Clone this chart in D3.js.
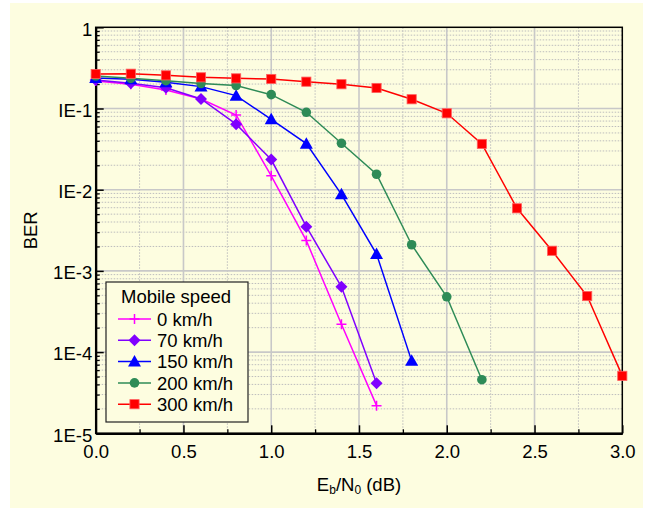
<!DOCTYPE html>
<html>
<head>
<meta charset="utf-8">
<script src="https://cdn.jsdelivr.net/npm/d3@7"></script>
<style>
  html, body { margin: 0; padding: 0; background: #ffffff; }
  svg { display: block; }
  text { font-family: "Liberation Sans", Arial, sans-serif; fill: #000; }
</style>
</head>
<body>
<svg id="chart" width="649" height="510"></svg>
<script>
// ---- data ----
const ebn0 = [0, 0.2, 0.4, 0.6, 0.8, 1.0, 1.2, 1.4, 1.6, 1.8, 2.0, 2.2, 2.4, 2.6, 2.8, 3.0];
const seriesNames = ["0 km/h", "70 km/h", "150 km/h", "200 km/h", "300 km/h"];
const ber0   = [0.218, 0.199, 0.169, 0.131, 0.0832, 0.0148, 0.00236, 0.00022, 2.19e-5];
const ber70  = [0.224, 0.204, 0.180, 0.131, 0.0641, 0.0235, 0.0035, 0.000638, 4.13e-5];
const ber150 = [0.238, 0.229, 0.210, 0.186, 0.144, 0.0736, 0.0369, 0.00878, 0.00161, 7.8e-5];
const ber200 = [0.251, 0.235, 0.220, 0.203, 0.192, 0.148, 0.0898, 0.0373, 0.0155, 0.0021, 0.00048, 4.57e-5];
const ber300 = [0.266, 0.268, 0.256, 0.242, 0.235, 0.231, 0.214, 0.199, 0.179, 0.130, 0.0873, 0.0366, 0.0059, 0.00177, 0.00049, 5.1e-5];
const yTickValues = [1, 0.1, 0.01, 0.001, 0.0001, 0.00001];
const yTickLabels = ["1", "IE-1", "IE-2", "1E-3", "1E-4", "1E-5"];
const xTickValues = [0, 0.5, 1.0, 1.5, 2.0, 2.5, 3.0];
const legendTitle = "Mobile speed";
const yLabel = "BER";

// ---- style ----
const colors = ["#ff00ff", "#8000ff", "#0000ff", "#2e8b57", "#ff0000"];
const symbols = ["plus", "diamond", "triangle", "circle", "square"];
const allSeries = [ber0, ber70, ber150, ber200, ber300];

const svg = d3.select("#chart");
const L = 95.7, R = 622.3, T = 27.3, B = 433.3;

svg.append("rect").attr("x", 10).attr("y", 3).attr("width", 633).attr("height", 505)
  .attr("fill", "#fdfde0");

const x = d3.scaleLinear().domain([0, 3]).range([L, R]);
const y = d3.scaleLog().domain([1e-5, 1]).range([B, T]);

// grid
const grid = svg.append("g");
const minorY = [];
for (let e = -5; e < 0; e++) for (let m = 2; m <= 9; m++) minorY.push(m * Math.pow(10, e));
const minorX = d3.range(0.25, 3, 0.5);
const majorX = [0.5, 1.0, 1.5, 2.0, 2.5];
const majorY = [0.1, 0.01, 0.001, 0.0001];

grid.selectAll(".mny").data(minorY).join("line")
  .attr("x1", L).attr("x2", R).attr("y1", d => y(d)).attr("y2", d => y(d))
  .attr("stroke", "#bdbdbd").attr("stroke-width", 1).attr("stroke-dasharray", "1.5,1.5");
grid.selectAll(".mnx").data(minorX).join("line")
  .attr("x1", d => x(d)).attr("x2", d => x(d)).attr("y1", T).attr("y2", B)
  .attr("stroke", "#bdbdbd").attr("stroke-width", 1).attr("stroke-dasharray", "1.5,1.5");
grid.selectAll(".mjy").data(majorY).join("line")
  .attr("x1", L).attr("x2", R).attr("y1", d => y(d)).attr("y2", d => y(d))
  .attr("stroke", "#c8c8c8").attr("stroke-width", 1.6);
grid.selectAll(".mjx").data(majorX).join("line")
  .attr("x1", d => x(d)).attr("x2", d => x(d)).attr("y1", T).attr("y2", B)
  .attr("stroke", "#c8c8c8").attr("stroke-width", 1.6);

// frame
svg.append("rect").attr("x", L).attr("y", T).attr("width", R - L).attr("height", B - T)
  .attr("fill", "none").attr("stroke", "#000").attr("stroke-width", 1.5);

// axes
const yAxis = d3.axisLeft(y).tickValues(yTickValues)
  .tickFormat((d, i) => yTickLabels[i]).tickSizeInner(-8).tickSizeOuter(0).tickPadding(3.5);
const gy = svg.append("g").attr("transform", `translate(${L},0)`).call(yAxis);
gy.select(".domain").attr("stroke-width", 2.2);
gy.selectAll(".tick line").attr("stroke-width", 1.5);
gy.selectAll("text").attr("font-size", "18.5px").attr("dy", "0.42em")
  .style("font-family", '"Liberation Sans", Arial, sans-serif');

const yMinor = d3.axisLeft(y).tickValues(minorY).tickFormat("").tickSizeInner(-4).tickSizeOuter(0);
const gym = svg.append("g").attr("transform", `translate(${L},0)`).call(yMinor);
gym.select(".domain").remove();
gym.selectAll(".tick line").attr("stroke-width", 1.3);

const xAxis = d3.axisBottom(x).tickValues(xTickValues).tickFormat(d3.format(".1f"))
  .tickSizeInner(-8).tickSizeOuter(0).tickPadding(12);
const gx = svg.append("g").attr("transform", `translate(0,${B})`).call(xAxis);
gx.select(".domain").attr("stroke-width", 2.2);
gx.selectAll(".tick line").attr("stroke-width", 1.5);
gx.selectAll("text").attr("font-size", "18.5px")
  .style("font-family", '"Liberation Sans", Arial, sans-serif');

const xMinor = d3.axisBottom(x).tickValues(minorX).tickFormat("").tickSizeInner(-4).tickSizeOuter(0);
const gxm = svg.append("g").attr("transform", `translate(0,${B})`).call(xMinor);
gxm.select(".domain").remove();
gxm.selectAll(".tick line").attr("stroke-width", 1.3);

// axis labels
const xl = svg.append("text").attr("x", (L + R) / 2).attr("y", 491)
  .attr("text-anchor", "middle").attr("font-size", "18.5px");
xl.append("tspan").text("E");
xl.append("tspan").text("b").attr("font-size", "12px").attr("dy", "3");
xl.append("tspan").text("/N").attr("dy", "-3");
xl.append("tspan").text("0").attr("font-size", "12px").attr("dy", "3");
xl.append("tspan").text(" (dB)").attr("dy", "-3");

svg.append("text").attr("transform", `translate(37,${(T + B) / 2}) rotate(-90)`)
  .attr("text-anchor", "middle").attr("font-size", "18.5px").text(yLabel);

// markers
function drawMarker(g, type, color, cx, cy) {
  if (type === "plus") {
    g.append("path").attr("d", `M${cx - 5},${cy}H${cx + 5}M${cx},${cy - 5}V${cy + 5}`)
      .attr("stroke", color).attr("stroke-width", 1.5).attr("fill", "none");
  } else if (type === "diamond") {
    g.append("path").attr("d", `M${cx},${cy - 6}L${cx + 6},${cy}L${cx},${cy + 6}L${cx - 6},${cy}Z`)
      .attr("fill", color);
  } else if (type === "triangle") {
    g.append("path").attr("d", `M${cx},${cy - 6.5}L${cx + 6.5},${cy + 5}L${cx - 6.5},${cy + 5}Z`)
      .attr("fill", color);
  } else if (type === "circle") {
    g.append("circle").attr("cx", cx).attr("cy", cy).attr("r", 4.8).attr("fill", color);
  } else if (type === "square") {
    g.append("rect").attr("x", cx - 4.6).attr("y", cy - 4.6).attr("width", 9.2).attr("height", 9.2)
      .attr("fill", color).attr("stroke", "#ff6060").attr("stroke-width", 0.8);
  }
}

const line = d3.line().x((d, i) => x(ebn0[i])).y(d => y(d));
const plot = svg.append("g");
allSeries.forEach((s, k) => {
  const g = plot.append("g");
  g.append("path").attr("d", line(s)).attr("fill", "none")
    .attr("stroke", colors[k]).attr("stroke-width", 1.5);
  s.forEach((v, i) => drawMarker(g, symbols[k], colors[k], x(ebn0[i]), y(v)));
});

// legend
const lg = svg.append("g");
lg.append("rect").attr("x", 106).attr("y", 282).attr("width", 142).attr("height", 140)
  .attr("fill", "#fdfde0").attr("stroke", "#222").attr("stroke-width", 1.2);
lg.append("text").attr("x", 176).attr("y", 303).attr("text-anchor", "middle")
  .attr("font-size", "18.5px").text(legendTitle);
seriesNames.forEach((name, k) => {
  const cy = 319 + k * 21.3;
  lg.append("line").attr("x1", 118).attr("x2", 151).attr("y1", cy).attr("y2", cy)
    .attr("stroke", colors[k]).attr("stroke-width", 1.5);
  drawMarker(lg, symbols[k], colors[k], 134.5, cy);
  lg.append("text").attr("x", 157).attr("y", cy + 6.6).attr("font-size", "18.5px").text(name);
});
</script>
</body>
</html>
